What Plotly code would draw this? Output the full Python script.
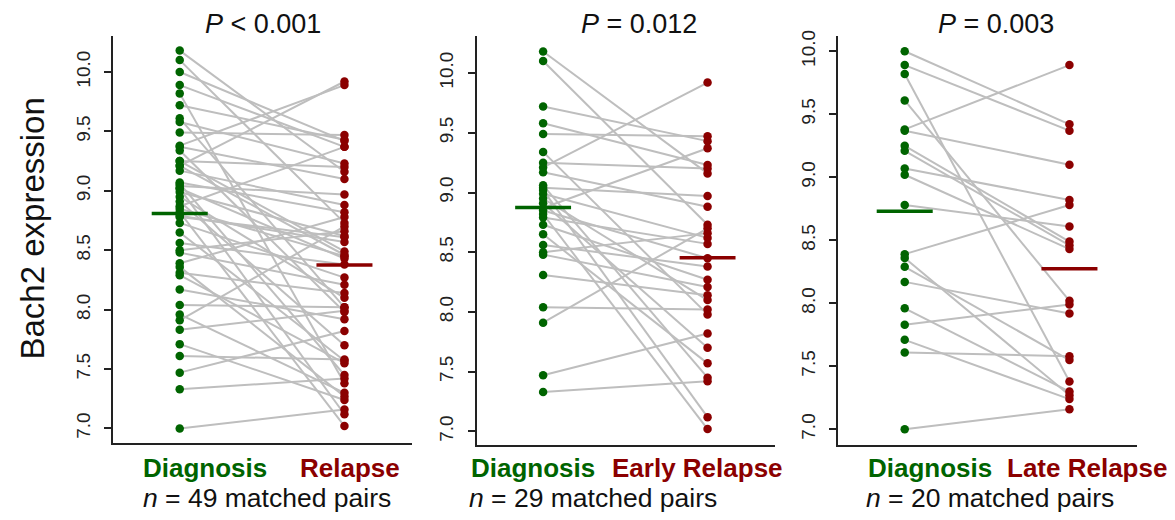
import plotly.graph_objects as go

# ---------------- data ----------------
# Early relapse cohort (29 matched pairs): diagnosis value -> early relapse value
early_diag = [10.18, 10.10, 9.72, 9.58, 9.49, 9.34, 9.25, 9.21, 9.17, 9.06, 9.04, 9.02,
              8.99, 8.95, 8.91, 8.87, 8.85, 8.82, 8.79, 8.73, 8.65, 8.56, 8.50, 8.48,
              8.31, 8.04, 7.91, 7.47, 7.33]
early_rel = [9.16, 8.73, 9.43, 9.23, 9.47, 7.98, 9.20, 9.92, 8.88, 7.45, 8.97, 7.12,
             8.62, 8.10, 7.70, 9.37, 8.45, 7.02, 8.57, 8.27, 7.57, 8.38, 8.66, 8.21,
             8.14, 8.02, 8.70, 7.82, 7.42]
# Late relapse cohort (20 matched pairs)
late_diag = [10.00, 9.89, 9.82, 9.61, 9.38, 9.37, 9.25, 9.21, 9.07, 9.02, 8.78, 8.39,
             8.36, 8.29, 8.17, 7.96, 7.83, 7.71, 7.61, 7.00]
late_rel = [9.42, 9.37, 7.38, 8.02, 9.89, 9.10, 8.49, 8.46, 8.82, 8.43, 8.61, 8.78,
            7.27, 7.55, 7.92, 7.30, 7.99, 7.24, 7.58, 7.16]
# All relapses (49 pairs) = early + late
all_diag = early_diag + late_diag
all_rel = early_rel + late_rel

# mean bars as drawn
mean_diag = [8.81, 8.875, 8.73]
mean_rel = [8.375, 8.454, 8.275]

p_labels = ["<i>P</i> &lt; 0.001", "<i>P</i> = 0.012", "<i>P</i> = 0.003"]
group_left = ["Diagnosis", "Diagnosis", "Diagnosis"]
group_right = ["Relapse", "Early Relapse", "Late Relapse"]
n_labels = ["<i>n</i> = 49 matched pairs", "<i>n</i> = 29 matched pairs", "<i>n</i> = 20 matched pairs"]
y_ticks = [7.0, 7.5, 8.0, 8.5, 9.0, 9.5, 10.0]
y_ticktext = ["7.0", "7.5", "8.0", "8.5", "9.0", "9.5", "10.0"]

panels = [(all_diag, all_rel), (early_diag, early_rel), (late_diag, late_rel)]

# ---------------- styling ----------------
W, H = 1175, 520
OFF = 8  # page body margin offset
GREEN = "#006400"
RED = "#8B0000"
GRAY = "#BEBEBE"
AXC = "#222222"
FONT = "Liberation Sans, Arial, sans-serif"


def px(x):
    return (x - OFF) / W


def py(y):
    return 1 - (y - OFF) / H


x_dom_px = [(113, 412), (476.5, 775), (838, 1137)]
y_dom_px = [(30, 442), (30, 444), (30, 444)]
y_ranges = [[6.878, 10.305], [6.887, 10.312], [6.876, 10.123]]
title_cx = [263, 639, 996]
lab_left_cx = [205, 533, 930]
lab_right_cx = [350, 697, 1087]
n_cx = [267, 593, 990]

fig = go.Figure()

for i, (d, r) in enumerate(panels):
    xa = "x" if i == 0 else f"x{i+1}"
    ya = "y" if i == 0 else f"y{i+1}"
    lx, ly = [], []
    for a, b in zip(d, r):
        lx += [1, 2, None]
        ly += [a, b, None]
    fig.add_trace(go.Scatter(x=lx, y=ly, mode="lines", xaxis=xa, yaxis=ya,
                             line=dict(color=GRAY, width=2), hoverinfo="skip",
                             showlegend=False))
    fig.add_trace(go.Scatter(x=[1] * len(d), y=d, mode="markers", xaxis=xa, yaxis=ya,
                             marker=dict(color=GREEN, size=8.5), showlegend=False))
    fig.add_trace(go.Scatter(x=[2] * len(r), y=r, mode="markers", xaxis=xa, yaxis=ya,
                             marker=dict(color=RED, size=8.5), showlegend=False))
    fig.add_trace(go.Scatter(x=[0.83, 1.17], y=[mean_diag[i]] * 2, mode="lines",
                             xaxis=xa, yaxis=ya, line=dict(color=GREEN, width=3.5),
                             showlegend=False))
    fig.add_trace(go.Scatter(x=[1.83, 2.17], y=[mean_rel[i]] * 2, mode="lines",
                             xaxis=xa, yaxis=ya, line=dict(color=RED, width=3.5),
                             showlegend=False))

layout = dict(width=W, height=H, margin=dict(l=0, r=0, t=0, b=0),
              paper_bgcolor="white", plot_bgcolor="white",
              font=dict(family=FONT, color="#111111"), showlegend=False)

for i in range(3):
    xk = "xaxis" if i == 0 else f"xaxis{i+1}"
    yk = "yaxis" if i == 0 else f"yaxis{i+1}"
    xa = "x" if i == 0 else f"x{i+1}"
    ya = "y" if i == 0 else f"y{i+1}"
    x0, x1 = x_dom_px[i]
    yt, yb = y_dom_px[i]
    layout[xk] = dict(domain=[px(x0), px(x1)], range=[0.595, 2.41], anchor=ya,
                      showline=True, linecolor=AXC, linewidth=1.5, showgrid=False,
                      zeroline=False, showticklabels=False, ticks="")
    layout[yk] = dict(domain=[py(yb), py(yt)], range=y_ranges[i], anchor=xa,
                      showline=True, linecolor=AXC, linewidth=1.5, showgrid=False,
                      zeroline=False, ticks="outside", ticklen=7, tickwidth=1.5,
                      tickcolor=AXC, tickvals=y_ticks, ticktext=y_ticktext,
                      tickangle=-90, tickfont=dict(size=19, color=AXC, family=FONT),
                      ticklabelstandoff=7)

fig.update_layout(**layout)

ann = []
for i in range(3):
    ann.append(dict(x=px(title_cx[i]), y=py(18), xref="paper", yref="paper",
                    text=p_labels[i], showarrow=False, xanchor="center", yanchor="middle",
                    font=dict(size=27, color="#111111", family=FONT)))
    ann.append(dict(x=px(lab_left_cx[i]), y=py(467), xref="paper", yref="paper",
                    text="<b>" + group_left[i] + "</b>", showarrow=False,
                    xanchor="center", yanchor="middle",
                    font=dict(size=26, color=GREEN, family=FONT)))
    ann.append(dict(x=px(lab_right_cx[i]), y=py(467), xref="paper", yref="paper",
                    text="<b>" + group_right[i] + "</b>", showarrow=False,
                    xanchor="center", yanchor="middle",
                    font=dict(size=26, color=RED, family=FONT)))
    ann.append(dict(x=px(n_cx[i]), y=py(498), xref="paper", yref="paper",
                    text=n_labels[i], showarrow=False, xanchor="center", yanchor="middle",
                    font=dict(size=26.5, color="#111111", family=FONT)))

ann.append(dict(x=px(32), y=py(225), xref="paper", yref="paper",
                text="Bach2 expression", showarrow=False, textangle=-90,
                xanchor="center", yanchor="middle",
                font=dict(size=33, color="#111111", family=FONT)))
fig.update_layout(annotations=ann)

fig.write_html("out.html")
